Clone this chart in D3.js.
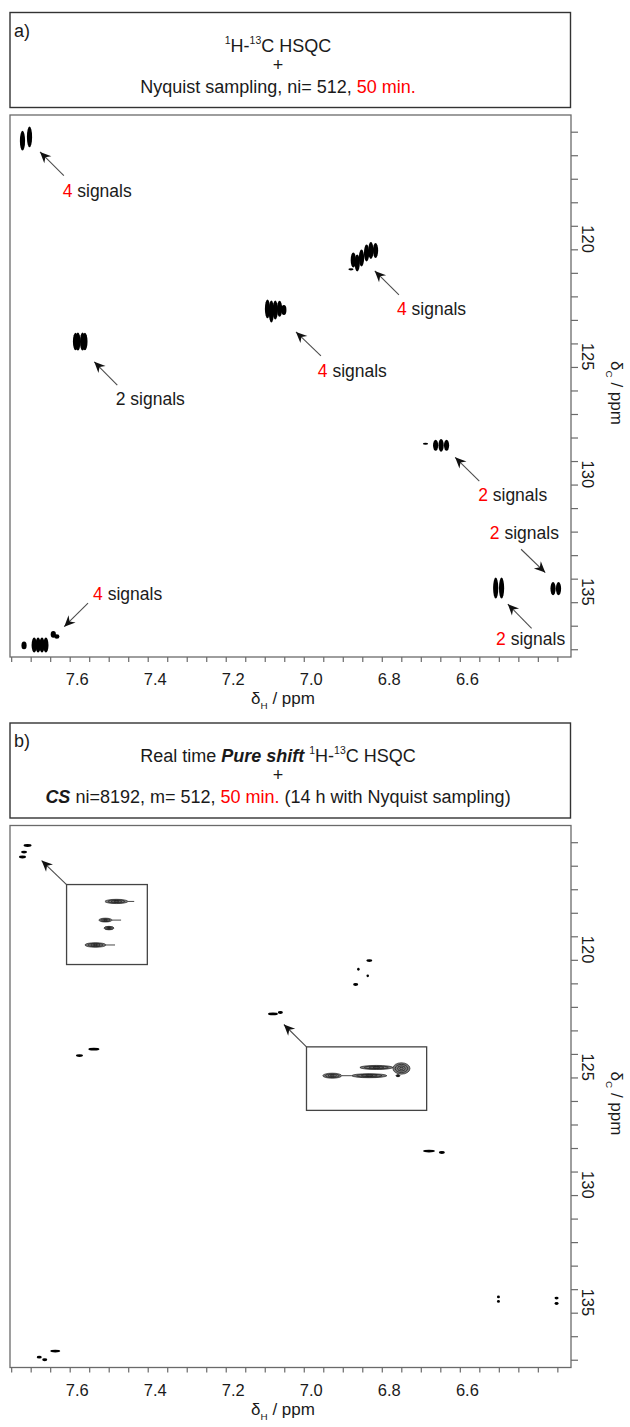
<!DOCTYPE html>
<html>
<head>
<meta charset="utf-8">
<script src="https://d3js.org/d3.v7.min.js"></script>
<style>
  body { margin: 0; background: #fff; }
  svg text { font-family: "Liberation Sans", Arial, sans-serif; fill: #1a1a1a; }
</style>
</head>
<body>
<svg id="figure" width="630" height="1427"></svg>
<script>
// ---------- data (ppm) ----------

// shared axes of both spectra
var xDomain = [7.803, 6.365];      // dH, reversed
var yDomain = [114.29, 137.33];    // dC, increasing downwards
var xMinorTicks = d3.range(6.40, 7.801, 0.05).map(function(d) { return +d.toFixed(2); });
var xMajorTicks = [7.6, 7.4, 7.2, 7.0, 6.8, 6.6];
var yMinorTicks = d3.range(115, 138, 1);
var yMajorTicks = [120, 125, 130, 135];

// panel a: Nyquist HSQC cross peaks [dH, dC, relative height]
var peaksA = [
  [7.771, 115.38, 0.90], [7.753, 115.22, 0.95],
  [7.635, 123.92, 0.80], [7.629, 123.92, 0.82], [7.617, 123.92, 0.82], [7.611, 123.92, 0.80],
  [7.143, 122.53, 0.86], [7.133, 122.64, 1.00], [7.123, 122.58, 0.86], [7.112, 122.53, 0.73], [7.101, 122.58, 0.45],
  [6.929, 120.85, 0.10], [6.923, 120.45, 0.68], [6.913, 120.58, 0.77], [6.902, 120.37, 0.77],
  [6.889, 120.16, 0.77], [6.878, 120.05, 0.77], [6.866, 120.05, 0.68],
  [6.738, 128.26, 0.08], [6.712, 128.33, 0.50], [6.698, 128.33, 0.58], [6.684, 128.33, 0.50],
  [6.558, 134.40, 0.95], [6.543, 134.40, 0.95],
  [6.411, 134.42, 0.60], [6.397, 134.42, 0.60],
  [7.767, 136.84, 0.35], [7.741, 136.82, 0.68], [7.731, 136.82, 0.68], [7.721, 136.82, 0.68],
  [7.711, 136.82, 0.68], [7.692, 136.37, 0.30], [7.683, 136.46, 0.20]
];

// panel a annotations
var signalCounts = ["4", "2", "4", "4", "2", "2", "2", "4"];
var countIsRed = [true, false, true, true, true, true, true, true];
var labelAt = [[7.668, 117.78], [7.532, 126.62], [7.014, 125.43], [6.811, 122.79],
               [6.603, 130.70], [6.573, 132.31], [6.557, 136.82], [7.590, 134.90]];
var arrowFrom = [[7.665, 116.87], [7.528, 125.77], [7.006, 124.53], [6.806, 121.94],
                 [6.600, 129.85], [6.493, 132.75], [6.466, 136.11], [7.603, 135.04]];
var arrowTo = [[7.726, 115.86], [7.587, 124.78], [7.070, 123.51], [6.868, 120.92],
               [6.662, 128.84], [6.431, 133.74], [6.527, 135.08], [7.664, 136.04]];

// panel b: pure shift HSQC peaks [dH, dC, relative length]
var peaksB = [
  [7.758, 115.14, 0.57], [7.767, 115.42, 0.43], [7.771, 115.63, 0.50],
  [7.588, 123.80, 0.79], [7.625, 124.07, 0.50],
  [7.129, 122.30, 0.71], [7.110, 122.24, 0.36],
  [6.882, 120.03, 0.43], [6.910, 120.40, 0.18], [6.886, 120.68, 0.18], [6.917, 121.05, 0.36],
  [6.729, 128.13, 0.86], [6.696, 128.19, 0.43],
  [6.551, 134.33, 0.21], [6.551, 134.52, 0.21],
  [6.402, 134.38, 0.29], [6.402, 134.61, 0.29],
  [7.687, 136.63, 0.71], [7.728, 136.89, 0.36], [7.714, 137.00, 0.36]
];

// panel b insets: where they sit, what they show, and the arrows
var insetBoxH = [[7.658, 7.451], [7.043, 6.735]];
var insetBoxC = [[116.80, 120.20], [123.70, 126.40]];
var insetViewH = [[7.80, 7.72], [7.155, 7.085]];
var insetViewC = [[114.95, 115.85], [122.08, 122.58]];
var insetArrowFrom = [[7.658, 116.80], [7.043, 123.70]];
var insetArrowTo = [[7.722, 115.78], [7.101, 122.75]];
// [dH, dC, half width dH, half width dC, tail end dH]
var inset1Peaks = [
  [7.7506, 115.14, 0.0114, 0.024, 7.733],
  [7.7615, 115.35, 0.0065, 0.022, 7.746],
  [7.7580, 115.44, 0.0050, 0.020, null],
  [7.7714, 115.63, 0.0104, 0.026, 7.752]
];
var inset2Peaks = [
  [7.1143, 122.242, 0.0096, 0.016, null],
  [7.0997, 122.250, 0.0050, 0.045, null],
  [7.1400, 122.307, 0.0055, 0.020, 7.1286],
  [7.1184, 122.307, 0.0102, 0.016, null],
  [7.1017, 122.307, 0.0012, 0.008, null]
];

// ---------- layout ----------
var plotLeft = 10, plotRight = 571, plotH = 542;
var frameColor = "#6a6a6a";
var red = "#ff0000";

var svg = d3.select("#figure");

var defs = svg.append("defs");
defs.append("marker")
    .attr("id", "head")
    .attr("viewBox", "-12 -5.5 13 11")
    .attr("refX", 0).attr("refY", 0)
    .attr("markerWidth", 13).attr("markerHeight", 11)
    .attr("markerUnits", "userSpaceOnUse")
    .attr("orient", "auto")
  .append("path")
    .attr("d", "M0,0 L-11,-5 L-7.5,0 L-11,5 Z")
    .attr("fill", "#111");

var x = d3.scaleLinear().domain(xDomain).range([plotLeft, plotRight]);

//writes text made of several runs (superscript, subscript, red, bold italic)
function writeRuns(textSel, parts, size) {
  var shift = 0;
  parts.forEach(function(p) {
    var target = p.sup ? -0.42 * size : (p.sub ? 0.3 * size : 0);
    var ts = textSel.append("tspan").text(p.t).attr("dy", target - shift);
    shift = target;
    if (p.sup || p.sub) ts.attr("font-size", size * 0.58);
    if (p.red) ts.style("fill", red);
    if (p.bi) ts.attr("font-weight", "bold").attr("font-style", "italic");
  });
}

//header box with its title lines
function header(top, tag, lines) {
  svg.append("rect")
     .attr("x", 10).attr("y", top)
     .attr("width", 560.5).attr("height", 95)
     .attr("fill", "none").attr("stroke", "#333").attr("stroke-width", 1.4);
  svg.append("text").attr("x", 14).attr("y", top + 24).attr("font-size", 18).text(tag);
  var offsets = [39, 58, 80];
  lines.forEach(function(parts, i) {
    var t = svg.append("text")
       .attr("x", 278).attr("y", top + offsets[i])
       .attr("text-anchor", "middle").attr("font-size", 18);
    writeRuns(t, parts, 18);
  });
}

//spectrum frame, axes and titles
function frame(top) {
  var y = d3.scaleLinear().domain(yDomain).range([top, top + plotH]);

  svg.append("rect")
     .attr("x", plotLeft).attr("y", top)
     .attr("width", plotRight - plotLeft).attr("height", plotH)
     .attr("fill", "#fff").attr("stroke", frameColor).attr("stroke-width", 1.3);

  // x ticks
  var gx = svg.append("g")
      .attr("transform", "translate(0," + (top + plotH) + ")")
      .call(d3.axisBottom(x).tickValues(xMinorTicks).tickSize(5).tickFormat(""));
  gx.select(".domain").remove();
  gx.selectAll("line").attr("stroke", frameColor).attr("stroke-width", 1.2);

  // x labels
  var gxl = svg.append("g")
      .attr("transform", "translate(0," + (top + plotH) + ")")
      .call(d3.axisBottom(x).tickValues(xMajorTicks).tickSize(0).tickFormat(d3.format(".1f")));
  gxl.select(".domain").remove();
  gxl.attr("font-family", null).attr("font-size", null);
  gxl.selectAll("text")
     .attr("y", 28).attr("dy", 0).attr("x", -1)
     .attr("text-anchor", "end")
     .attr("font-size", 16.5)
     .style("fill", "#1a1a1a");

  // y ticks on the right
  var gy = svg.append("g")
      .attr("transform", "translate(" + plotRight + ",0)")
      .call(d3.axisRight(y).tickValues(yMinorTicks).tickSize(7).tickFormat(""));
  gy.select(".domain").remove();
  gy.selectAll("line").attr("stroke", frameColor).attr("stroke-width", 1.2);

  var gyl = svg.append("g")
      .attr("transform", "translate(" + plotRight + ",0)")
      .call(d3.axisRight(y).tickValues(yMajorTicks).tickSize(0).tickFormat(d3.format("d")));
  gyl.select(".domain").remove();
  gyl.attr("font-family", null).attr("font-size", null);
  gyl.selectAll("text")
     .attr("x", 0).attr("y", 0).attr("dy", 0)
     .attr("text-anchor", "end")
     .attr("transform", "translate(11,3) rotate(90)")
     .attr("font-size", 16.5)
     .style("fill", "#1a1a1a");

  // axis titles
  var tx = svg.append("text")
     .attr("x", 283).attr("y", top + plotH + 47)
     .attr("text-anchor", "middle").attr("font-size", 17);
  writeRuns(tx, [{t: "δ"}, {t: "H", sub: true}, {t: " / ppm"}], 17);

  var ty = svg.append("text")
     .attr("transform", "translate(611," + (top + plotH / 2 + 7) + ") rotate(90)")
     .attr("text-anchor", "middle").attr("font-size", 17);
  writeRuns(ty, [{t: "δ"}, {t: "C", sub: true}, {t: " / ppm"}], 17);

  return y;
}

function arrow(y, from, to) {
  svg.append("line")
     .attr("x1", x(from[0])).attr("y1", y(from[1]))
     .attr("x2", x(to[0])).attr("y2", y(to[1]))
     .attr("stroke", "#4d4d4d").attr("stroke-width", 1.1)
     .attr("marker-end", "url(#head)");
}

// ---------- panel a ----------
header(12.5, "a)", [
  [{t: "1", sup: true}, {t: "H-"}, {t: "13", sup: true}, {t: "C HSQC"}],
  [{t: "+"}],
  [{t: "Nyquist sampling, ni= 512, "}, {t: "50 min.", red: true}]
]);

var yA = frame(115);
var heightA = d3.scaleLinear().domain([0, 1]).range([0, 11]);

svg.append("g").selectAll("ellipse")
   .data(peaksA).enter().append("ellipse")
   .attr("cx", function(d) { return x(d[0]); })
   .attr("cy", function(d) { return yA(d[1]); })
   .attr("rx", 2.6)
   .attr("ry", function(d) { return Math.max(1, heightA(d[2])); })
   .attr("fill", "#000");

signalCounts.forEach(function(c, i) {
  arrow(yA, arrowFrom[i], arrowTo[i]);
  var t = svg.append("text")
     .attr("x", x(labelAt[i][0])).attr("y", yA(labelAt[i][1]))
     .attr("font-size", 17.5);
  writeRuns(t, [{t: c, red: countIsRed[i]}, {t: " signals"}], 17.5);
});

// ---------- panel b ----------
header(723, "b)", [
  [{t: "Real time "}, {t: "Pure shift", bi: true}, {t: " "}, {t: "1", sup: true}, {t: "H-"}, {t: "13", sup: true}, {t: "C HSQC"}],
  [{t: "+"}],
  [{t: "CS", bi: true}, {t: " ni=8192, m= 512, "}, {t: "50 min.", red: true}, {t: " (14 h with Nyquist sampling)"}]
]);

var yB = frame(825.5);
var lengthB = d3.scaleLinear().domain([0, 1]).range([0, 7]);

svg.append("g").selectAll("ellipse")
   .data(peaksB).enter().append("ellipse")
   .attr("cx", function(d) { return x(d[0]); })
   .attr("cy", function(d) { return yB(d[1]); })
   .attr("rx", function(d) { return lengthB(d[2]); })
   .attr("ry", 1.4)
   .attr("fill", "#000");

//zoomed insets drawn as contour blobs
[inset1Peaks, inset2Peaks].forEach(function(peaks, k) {
  arrow(yB, insetArrowFrom[k], insetArrowTo[k]);

  var bx0 = x(insetBoxH[k][0]), bx1 = x(insetBoxH[k][1]);
  var by0 = yB(insetBoxC[k][0]), by1 = yB(insetBoxC[k][1]);
  svg.append("rect")
     .attr("x", bx0).attr("y", by0)
     .attr("width", bx1 - bx0).attr("height", by1 - by0)
     .attr("fill", "#fff").attr("stroke", "#444").attr("stroke-width", 1.3);

  var ix = d3.scaleLinear().domain(insetViewH[k]).range([bx0, bx1]);
  var iy = d3.scaleLinear().domain(insetViewC[k]).range([by0, by1]);
  var g = svg.append("g");

  peaks.forEach(function(p) {
    var cx = ix(p[0]), cy = iy(p[1]);
    var rx = Math.abs(ix(p[0] + p[2]) - cx), ry = Math.abs(iy(p[1] + p[3]) - cy);
    if (p[4] !== null) {
      g.append("line")
       .attr("x1", Math.min(cx + rx, ix(p[4]))).attr("y1", cy)
       .attr("x2", ix(p[4])).attr("y2", cy)
       .attr("stroke", "#333").attr("stroke-width", 0.9);
    }
    [1, 0.72, 0.45, 0.2].forEach(function(s, j) {
      g.append("ellipse")
       .attr("cx", cx).attr("cy", cy)
       .attr("rx", Math.max(0.6, rx * s)).attr("ry", Math.max(0.6, ry * s))
       .attr("fill", j === 0 ? "#7a7a7a" : "none")
       .attr("stroke", "#111").attr("stroke-width", 0.6);
    });
  });
});
</script>
</body>
</html>
